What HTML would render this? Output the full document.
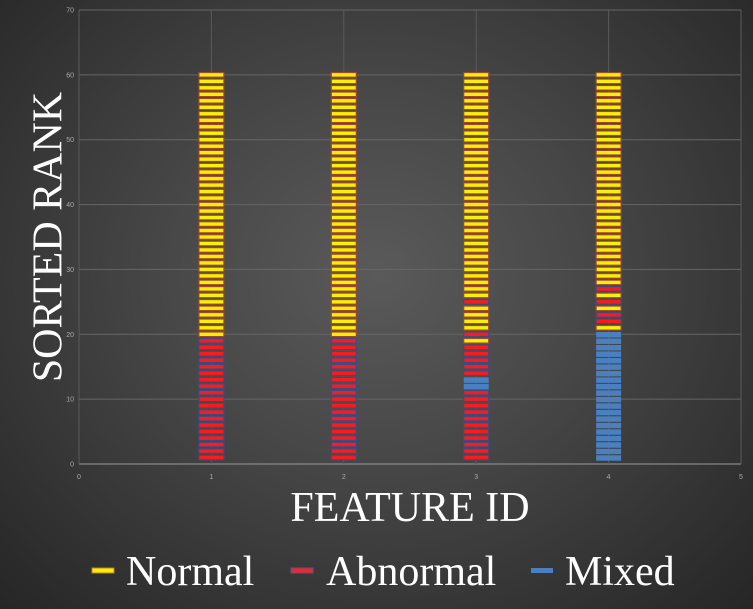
<!DOCTYPE html>
<html><head><meta charset="utf-8"><style>
html,body{margin:0;padding:0;}
body{width:753px;height:609px;overflow:hidden;background:radial-gradient(ellipse at 50% 45%,#5a5a5a 0%,#474747 40%,#2e2e2e 85%,#262626 100%);font-family:"Liberation Serif",serif;}
svg{position:absolute;left:0;top:0;}
</style></head><body>
<svg width="753" height="609">
<g id="grid"></g>
<g id="ticks"></g>
<g id="marks"></g>
<text x="52" y="237" transform="rotate(-90 52 237)" text-anchor="middle" dominant-baseline="middle" font-size="42" fill="#fff" font-family="Liberation Serif, serif">SORTED RANK</text>
<text x="410" y="521" text-anchor="middle" font-size="42" fill="#fff" font-family="Liberation Serif, serif">FEATURE ID</text>
<g>
<g><rect x="92" y="568" width="22" height="5" fill="#ffee00" stroke="#c08020" stroke-width="1"/><text x="126" y="585" font-size="42" fill="#fff">Normal</text></g>
<g><rect x="291" y="568" width="22" height="5" fill="#ff2020" stroke="#4a5a90" stroke-width="1"/><text x="326" y="585" font-size="42" fill="#fff">Abnormal</text></g>
<g><rect x="531" y="568" width="22" height="5" fill="#4a7fc0"/><text x="565" y="585" font-size="42" fill="#fff">Mixed</text></g>
</g>
</svg>
<script>
const features=[1,2,3,4];
const xTicks=[0,1,2,3,4,5];
const yTicks=[0,10,20,30,40,50,60,70];
// category per rank (1..60): N=Normal, A=Abnormal, M=Mixed
const f1="AAAAAAAAAAAAAAAAAAA"+"N".repeat(41);
const f2="AAAAAAAAAAAAAAAAAAA"+"N".repeat(41);
const f3="AAAAAAAAAAAMMAAAAANANNNNA"+"N".repeat(35);
const f4="M".repeat(20)+"NAANANA"+"N".repeat(33);
const seriesCats=[f1,f2,f3,f4];
const X0=79,X1=741,Y0=464,Y1=10;
const sx=v=>X0+(v-0)/(5-0)*(X1-X0);
const sy=v=>Y0-(v-0)/(70-0)*(Y0-Y1);
const NS="http://www.w3.org/2000/svg";
const grid=document.getElementById('grid'),ticks=document.getElementById('ticks'),marks=document.getElementById('marks');
yTicks.forEach(t=>{
 const l=document.createElementNS(NS,'line');
 
 
 l.setAttribute('x1',X0);l.setAttribute('x2',X1);l.setAttribute('y1',sy(t));l.setAttribute('y2',sy(t));
 l.setAttribute('stroke',t===0?'#9a9a9a':'#666');l.setAttribute('stroke-width',1);
 grid.appendChild(l);
 const tx=document.createElementNS(NS,'text');
 
 
 tx.setAttribute('x',X0-5);tx.setAttribute('y',sy(t)+2.5);tx.setAttribute('text-anchor','end');
 tx.setAttribute('font-size','7');tx.setAttribute('fill','#aaa');tx.setAttribute('font-family','Liberation Sans, sans-serif');
 tx.textContent=t;ticks.appendChild(tx);
});
xTicks.forEach(t=>{
 const l=document.createElementNS(NS,'line');
 
 
 l.setAttribute('x1',sx(t));l.setAttribute('x2',sx(t));l.setAttribute('y1',Y1);l.setAttribute('y2',Y0);
 l.setAttribute('stroke','#5a5a5a');l.setAttribute('stroke-width',1);
 grid.appendChild(l);
 const tx=document.createElementNS(NS,'text');
 
 
 tx.setAttribute('x',sx(t));tx.setAttribute('y',Y0+15);tx.setAttribute('text-anchor','middle');
 tx.setAttribute('font-size','7');tx.setAttribute('fill','#aaa');tx.setAttribute('font-family','Liberation Sans, sans-serif');
 tx.textContent=t;ticks.appendChild(tx);
});
const style={N:{fill:'#ffee00',stroke:'#9a4a30'},A:{fill:'#ff1a1a',stroke:'#3c4c80'},M:{fill:'#4a7fc0',stroke:'none'}};
features.forEach((f,i)=>{
 const cats=seriesCats[i];
 for(let r=1;r<=cats.length;r++){
  const c=cats[r-1];const s=style[c];
  const rc=document.createElementNS(NS,'rect');
  
  
  rc.setAttribute('x',sx(f)-12.5);rc.setAttribute('y',sy(r)-2.3);
  rc.setAttribute('width',25);rc.setAttribute('height',c==='M'?5.5:4.6);
  rc.setAttribute('fill',s.fill);
  if(s.stroke!=='none'){rc.setAttribute('stroke',s.stroke);rc.setAttribute('stroke-width',1.2);}
  marks.appendChild(rc);
 }
});
</script>
</body></html>
